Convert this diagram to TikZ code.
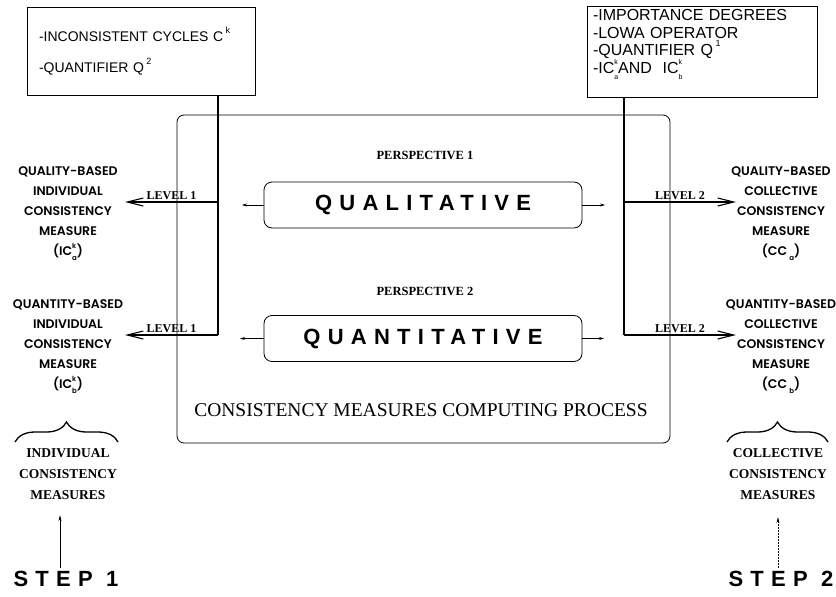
\documentclass[tikz,border=0pt]{standalone}
\usepackage{fontspec}
\usepackage{tikz}
\usetikzlibrary{arrows.meta,calc,decorations.pathreplacing}
\setmainfont{Liberation Serif}
\newfontfamily\boxfont{Liberation Sans}
\newfontfamily\wfont{Liberation Sans}[LetterSpace=33]
\newfontfamily\labfont{Poppins SemiBold}
\newcommand{\stk}[2]{\makebox[0pt][l]{\raisebox{1.05ex}{\scriptsize #1}}%
  \raisebox{-0.75ex}{\scriptsize #2}}
\tikzset{%
  srcbox/.style={draw,rectangle,line width=0.9pt,align=left,
    font=\boxfont\fontsize{14}{16}\selectfont},
  frame/.style={draw,rectangle,rounded corners=7pt,line width=0.8pt},
  perspbox/.style={draw,rectangle,rounded corners=8pt,line width=0.8pt,
    minimum width=318pt,minimum height=46pt,
    font=\wfont\bfseries\fontsize{22}{22}\selectfont},
  persp/.style={font=\bfseries\fontsize{12.5}{14}\selectfont},
  lvl/.style={font=\bfseries\fontsize{12}{14}\selectfont,inner sep=2pt},
  measure/.style={align=center,font=\labfont\fontsize{12.5}{20}\selectfont},
  group/.style={align=center,font=\bfseries\fontsize{13.5}{21}\selectfont},
  steplab/.style={font=\wfont\bfseries\fontsize{22}{22}\selectfont},
  bigarrow/.style={line width=1.1pt,-{Straight Barb[length=16pt,width=8pt]}},
  smallarrow/.style={line width=0.5pt,-{Stealth[length=5pt,width=3pt]}},
  bracket/.style={decorate,decoration={brace,amplitude=20pt},line width=1.3pt}
}
\begin{document}
\begin{tikzpicture}[x=1pt,y=-1pt]
  \useasboundingbox (0,0) rectangle (836,597);
  % sources
  \node[srcbox,minimum width=228pt,minimum height=88pt,text width=204pt]
    (cycles) at (141,51)
    {-INCONSISTENT CYCLES C\,\raisebox{1.1ex}{\small k}\\[15pt]
     -QUANTIFIER Q\,\raisebox{1.1ex}{\small 2}};
  \node[srcbox,minimum width=230pt,minimum height=91pt,text width=218pt,
    text depth=73pt,font=\boxfont\fontsize{16}{17.5}\selectfont]
    (aggr) at (702,51.5)
    {-IMPORTANCE DEGREES\\
     -LOWA OPERATOR\\
     -QUANTIFIER Q\,\raisebox{1.1ex}{\small 1}\\
     -IC\stk{k}{a}AND\ \ IC\stk{k}{b}};
  %
  \node[frame,minimum width=493pt,minimum height=328pt] (process)
    at (423.5,279) {};
  \node[font=\fontsize{19.5}{22}\selectfont] (ptitle) at (421,410)
    {CONSISTENCY MEASURES COMPUTING PROCESS};
  \node[persp] (p1) at (425,155) {PERSPECTIVE 1};
  \node[persp] (p2) at (425,291) {PERSPECTIVE 2};
  \node[perspbox] (qual) at (423,205) {QUALITATIVE};
  \node[perspbox] (quan) at (423,338.5) {QUANTITATIVE};
  %
  \coordinate (s1) at (242,205);
  \coordinate (s2) at (605,205);
  \coordinate (s3) at (240,338.5);
  \coordinate (s4) at (604,338.5);
  \draw[smallarrow] (qual.west)--(s1);
  \draw[smallarrow] (qual.east)--(s2);
  \draw[smallarrow] (quan.west)--(s3);
  \draw[smallarrow] (quan.east)--(s4);
  %
  \node[measure] (qlind) at (68,214)
    {QUALITY-BASED\\INDIVIDUAL\\CONSISTENCY\\MEASURE\\(IC\stk{k}{a})};
  \node[measure] (qnind) at (68,347)
    {QUANTITY-BASED\\INDIVIDUAL\\CONSISTENCY\\MEASURE\\(IC\stk{k}{b})};
  \node[measure] (qlcol) at (781,214)
    {QUALITY-BASED\\COLLECTIVE\\CONSISTENCY\\MEASURE\\(CC\,\raisebox{-0.75ex}{\scriptsize a})};
  \node[measure] (qncol) at (781,347)
    {QUANTITY-BASED\\COLLECTIVE\\CONSISTENCY\\MEASURE\\(CC\,\raisebox{-0.75ex}{\scriptsize b})};
  %
  \coordinate (l1) at (218,202);
  \coordinate (l2) at (218,335);
  \coordinate (r1) at (624,202);
  \coordinate (r2) at (624,335);
  \coordinate (a1) at (125,202);
  \coordinate (a2) at (125,335);
  \coordinate (a3) at (736,202);
  \coordinate (a4) at (736,335);
  \draw[line width=1.1pt] (cycles.south -| l1)--(l2);
  \draw[line width=1.1pt] (aggr.south -| r1)--(r2);
  \draw[bigarrow] (l1)--(a1) node[lvl,midway,above] {LEVEL 1};
  \draw[bigarrow] (l2)--(a2) node[lvl,midway,above] {LEVEL 1};
  \draw[bigarrow] (r1)--(a3) node[lvl,midway,above] {LEVEL 2};
  \draw[bigarrow] (r2)--(a4) node[lvl,midway,above] {LEVEL 2};
  %
  \coordinate (b1) at (15,442);
  \coordinate (b2) at (118,442);
  \coordinate (b3) at (727,442);
  \coordinate (b4) at (828,442);
  \draw[bracket] (b1)--(b2);
  \draw[bracket] (b3)--(b4);
  \node[group] (ind) at (68,474) {INDIVIDUAL\\CONSISTENCY\\MEASURES};
  \node[group] (col) at (778,474) {COLLECTIVE\\CONSISTENCY\\MEASURES};
  \node[steplab] (step1) at (66,579) {STEP 1};
  \node[steplab] (step2) at (781,579) {STEP 2};
  \draw[line width=0.6pt,-{Stealth[length=6pt,width=3pt]},shorten >=12pt]
    (step1.north -| 60,0)--(ind.south -| 60,0);
  \draw[line width=0.5pt,densely dotted,-{Stealth[length=6pt,width=3pt]},
    shorten >=14pt] (step2.north -| 778,0)--(col.south -| 778,0);
\end{tikzpicture}
\end{document}
